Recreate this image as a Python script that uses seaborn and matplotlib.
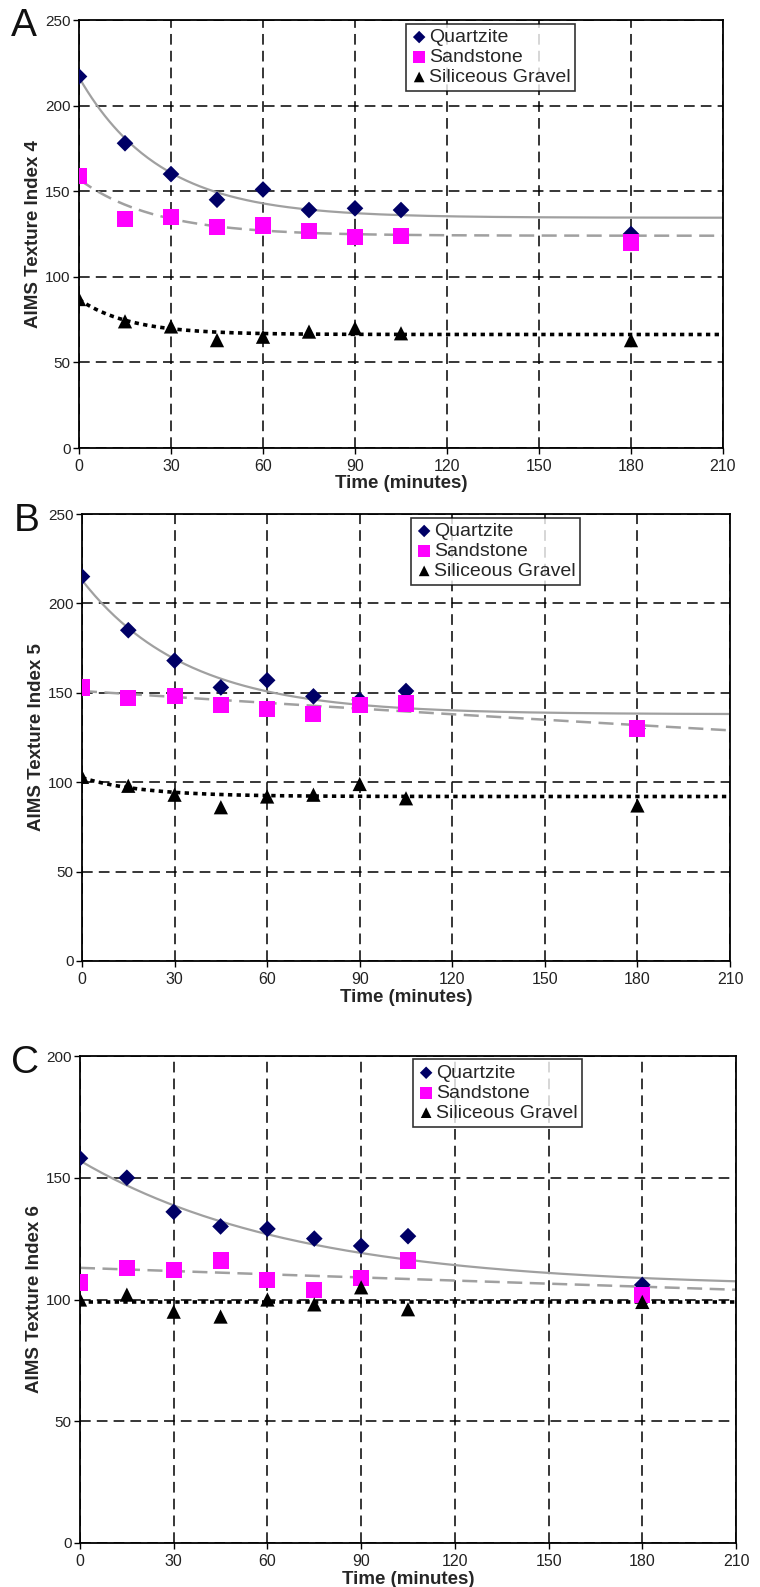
import numpy as np
import pandas as pd
import matplotlib
matplotlib.use("Agg")
import matplotlib.pyplot as plt
import seaborn as sns

# ---------------- data ----------------
time = [0, 15, 30, 45, 60, 75, 90, 105, 180]
series = ["Quartzite", "Sandstone", "Siliceous Gravel"]
panels = ["A", "B", "C"]
ylabels = ["AIMS Texture Index 4", "AIMS Texture Index 5", "AIMS Texture Index 6"]
ymax = [250, 250, 200]
xticks = [0, 30, 60, 90, 120, 150, 180, 210]

a_quartzite = [217, 178, 160, 145, 151, 139, 140, 139, 125]
a_sandstone = [159, 134, 135, 129, 130, 127, 123, 124, 120]
a_gravel = [87, 74, 71, 63, 65, 68, 70, 67, 63]

b_quartzite = [215, 185, 168, 153, 157, 148, 146, 151, 130]
b_sandstone = [153, 147, 148, 143, 141, 138, 143, 144, 130]
b_gravel = [103, 98, 93, 86, 92, 93, 99, 91, 87]

c_quartzite = [158, 150, 136, 130, 129, 125, 122, 126, 106]
c_sandstone = [107, 113, 112, 116, 108, 104, 109, 116, 102]
c_gravel = [100, 102, 95, 93, 100, 98, 105, 96, 99]

# fitted trend y = c + a*exp(-k t)  (asymptote, amplitude, rate)
a_fit = [(134.5, 82, 0.038), (124, 33, 0.04), (66.3, 20.5, 0.06)]
b_fit = [(138, 75, 0.0295), (0, 151, 0.00075), (92, 10.5, 0.05)]
c_fit = [(105, 52, 0.0145), (0, 113, 0.000395), (99, 0, 0.0)]

values = [[a_quartzite, a_sandstone, a_gravel],
          [b_quartzite, b_sandstone, b_gravel],
          [c_quartzite, c_sandstone, c_gravel]]
fits = [a_fit, b_fit, c_fit]

# ---------------- style ----------------
sns.set_theme(style="white")
plt.rcParams["font.family"] = ["Liberation Sans", "DejaVu Sans"]

marker_map = {"Quartzite": "D", "Sandstone": "s", "Siliceous Gravel": "^"}
color_map = {"Quartzite": "#000066", "Sandstone": "#FF00FF", "Siliceous Gravel": "#000000"}
size_map = {"Quartzite": 72, "Sandstone": 135, "Siliceous Gravel": 105}
line_styles = [dict(color="#a0a0a0", lw=1.6, ls="-"),
               dict(color="#a0a0a0", lw=1.8, ls=(0, (6, 3))),
               dict(color="#000000", lw=2.6, ls=(0, (1.2, 1.2)))]

W, H = 760, 1587
fig = plt.figure(figsize=(W / 100, H / 100), dpi=100)
boxes = [(79, 723, 20, 448), (82, 730, 514, 961), (80, 736, 1056, 1543)]

tgrid = np.linspace(0, 210, 300)
tick_font = ["Liberation Sans Narrow", "Liberation Sans", "DejaVu Sans"]

for i, (l, r, t, b) in enumerate(boxes):
    ax = fig.add_axes([l / W, 1 - b / H, (r - l) / W, (b - t) / H])
    rows = []
    for s, vals in zip(series, values[i]):
        for tt, v in zip(time, vals):
            rows.append({"Time": tt, "Value": v, "Series": s})
    df = pd.DataFrame(rows)

    # fitted curves
    for j, s in enumerate(series):
        c, a, k = fits[i][j]
        fd = pd.DataFrame({"Time": tgrid, "Value": c + a * np.exp(-k * tgrid)})
        sns.lineplot(data=fd, x="Time", y="Value", ax=ax, zorder=2, **line_styles[j])

    # points
    for s in series:
        sub = df[df["Series"] == s]
        sns.scatterplot(data=sub, x="Time", y="Value", ax=ax, marker=marker_map[s],
                        color=color_map[s], s=size_map[s], edgecolor="none",
                        label=s, zorder=3)

    ax.set_xlim(0, 210)
    ax.set_ylim(0, ymax[i])
    ax.set_xticks(xticks)
    ax.set_yticks(np.arange(0, ymax[i] + 1, 50))
    ax.grid(True, color="black", ls=(0, (7, 4)), lw=1.1)
    ax.set_axisbelow(True)
    for sp in ax.spines.values():
        sp.set_color("black")
        sp.set_linewidth(1.3)
    ax.tick_params(axis="both", which="major", direction="out", length=4, width=1,
                   color="black", labelsize=11.5, labelcolor="#222222", pad=4,
                   bottom=True, left=True)
    ax.tick_params(axis="y", pad=2, labelsize=11)
    for lab in ax.get_xticklabels() + ax.get_yticklabels():
        lab.set_fontfamily(tick_font)
    ax.set_xlabel("Time (minutes)", fontsize=13.5, fontweight="bold", labelpad=1,
                  fontfamily=tick_font)
    ax.set_ylabel(ylabels[i], fontsize=13.5, fontweight="bold", labelpad=2)
    ax.text(-0.105, 0.985, panels[i], transform=ax.transAxes, fontsize=28,
            ha="left", va="center", color="#111111")

    leg = ax.legend(loc="upper left", bbox_to_anchor=(0.498, 1.005), frameon=True,
                    fancybox=False, edgecolor="black", fontsize=14,
                    handletextpad=0.05, borderpad=0.25, labelspacing=0.12,
                    handlelength=0.9, borderaxespad=0.3, markerscale=0.75)
    leg.get_frame().set_linewidth(1.2)

fig.savefig("out.png", dpi=100)
